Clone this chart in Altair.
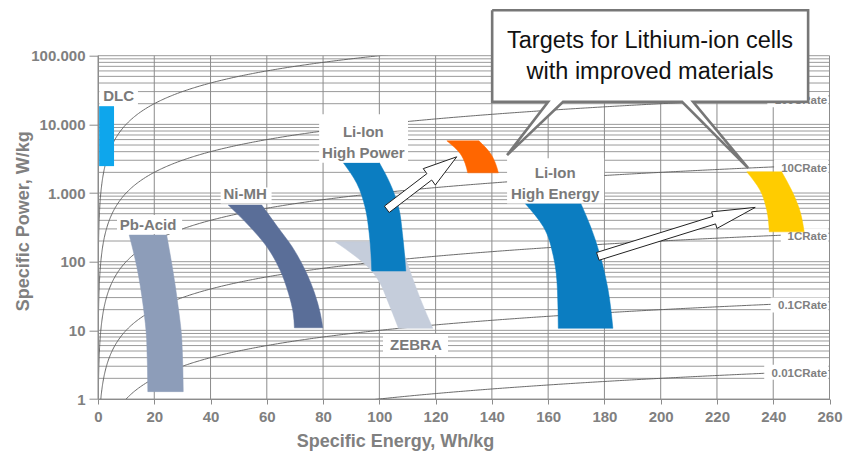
import altair as alt
import numpy as np
import pandas as pd

FONT = "Liberation Sans, Arial, Helvetica, sans-serif"
GRAY = "#808080"
LINE_GRAY = "#8c8c8c"

# ---------------- axes ----------------
X_TICKS = [0, 20, 40, 60, 80, 100, 120, 140, 160, 180, 200, 220, 240, 260]
Y_TICKS = [1, 10, 100, 1000, 10000, 100000]
Y_TICK_LABELS = ["1", "10", "100", "1.000", "10.000", "100.000"]
Y_GRID = [m * 10 ** k for k in range(5) for m in range(1, 10)] + [100000]

# ---------------- C-rate reference lines (P = C * E) ----------------
C_RATES = [0.01, 0.1, 1, 10, 100, 1000]
C_RATE_LABELS = ["0.01CRate", "0.1CRate", "1CRate", "10CRate", "100CRate"]
C_RATE_LABEL_P = [2.11, 20.2, 206, 2036, 19700]
C_RATE_LABEL_BOX_E = [236.8, 239.1, 242.7, 240.3, 237.9]

# ---------------- technology regions ----------------
# DLC rectangle
DLC_E = [0.4, 5.7]
DLC_P = [18400, 2465]

# curved bands: power levels with left / right energy edge
PB_P = [244, 84.3, 22.1, 7.22, 1.28]
PB_EL = [11.1, 13.8, 16.1, 17.3, 17.7]
PB_ER = [24.4, 26.4, 28.5, 29.8, 30.3]

NIMH_P = [667, 322, 165, 75.5, 34.6, 17.7, 10.9]
NIMH_EL = [46.3, 54.0, 60.0, 64.7, 67.7, 69.4, 69.8]
NIMH_ER = [58.2, 63.8, 69.0, 73.6, 77.0, 79.0, 79.9]

ZEBRA_P = [195, 73, 48.3, 29.2, 10.7]
ZEBRA_EL = [84.3, 97.3, 100.3, 102.6, 106.8]
ZEBRA_ER = [107.4, 110.9, 112.5, 114.5, 119.0]

LIHP_P = [2754, 1380, 630, 258, 73]
LIHP_EL = [87.2, 92.0, 94.9, 96.4, 97.3]
LIHP_ER = [100.0, 103.8, 106.8, 108.2, 109.4]

LIHE_P = [706, 322, 118, 38.6, 10.7]
LIHE_EL = [151.8, 158.3, 161.9, 163.3, 163.6]
LIHE_ER = [171.6, 175.1, 178.6, 181.3, 183.0]

TGT_HP_P = [5754, 3770, 2697, 1968]
TGT_HP_EL = [124.0, 128.7, 130.5, 131.4]
TGT_HP_ER = [135.4, 139.5, 141.3, 142.3]

TGT_HE_P = [2036, 1102, 564, 272]
TGT_HE_EL = [230.6, 235.3, 237.7, 238.6]
TGT_HE_ER = [243.0, 246.5, 249.4, 251.0]

# ---------------- region labels ----------------
REGION_TEXT = ["DLC", "Pb-Acid", "Ni-MH", "Li-Ion", "High Power", "Li-Ion", "High Energy", "ZEBRA"]
REGION_TEXT_E = [7.3, 17.8, 52.3, 94.3, 94.3, 162.5, 162.5, 113.0]
REGION_TEXT_P = [21770, 288, 807, 6580, 3190, 1633, 807, 5.17]

BOX_E1 = [0.5, 6.75, 43.6, 78.6, 145.4, 101.3]
BOX_E2 = [14.2, 29.9, 61.7, 110.2, 179.9, 124.4]
BOX_P1 = [36000, 477, 1206, 14070, 3222, 8.84]
BOX_P2 = [18700, 252, 706, 2754, 706, 4.37]

# ---------------- arrows & callout ----------------
ARROW1_E = [101.8, 116.9, 115.6, 127.5, 119.9, 118.6, 103.5, 101.8]
ARROW1_P = [645, 1915, 2265, 3365, 1307, 1546, 520, 645]
ARROW2_E = [177.2, 218.6, 218.1, 233.6, 220.0, 219.5, 178.1, 177.2]
ARROW2_P = [136, 458, 532, 617, 305, 355, 105, 136]

CALLOUT_E = [140.1, 252.4, 252.4, 211.5, 231.1, 207.6, 165.3, 145.4, 160.0, 140.1, 140.1]
CALLOUT_P = [459000, 459000, 21270, 21270, 2303, 21270, 21270, 3560, 21270, 21270, 459000]
CALLOUT_TEXT = ["Targets for Lithium-ion cells", "with improved materials"]
CALLOUT_TEXT_E = [196.2, 196.2]
CALLOUT_TEXT_P = [127400, 45500]

# ---------------- scales / axes ----------------
XS = alt.Scale(domain=[0, 260], nice=False, zero=False)
YS = alt.Scale(type="log", domain=[1, 100000], nice=False)

label_expr = " : ".join(
    f"datum.value == {v} ? '{t}'" for v, t in zip(Y_TICKS, Y_TICK_LABELS)
) + " : ''"

X_AXIS = alt.Axis(
    values=X_TICKS, grid=False, title="Specific Energy, Wh/kg",
    titleX=297, titleY=47.5, titleBaseline="alphabetic", titleAlign="center",
    titleFont=FONT, titleFontSize=18, titleFontWeight="bold", titleColor=GRAY,
    labelFont=FONT, labelFontSize=15, labelFontWeight="bold", labelColor=GRAY,
    labelFlush=False, labelOverlap=False, labelPadding=5,
    tickSize=5, tickColor=LINE_GRAY, domainColor=LINE_GRAY, zindex=1,
)
Y_AXIS = alt.Axis(
    values=Y_TICKS, labelExpr=label_expr, grid=False, title="Specific Power, W/kg",
    titleX=-70, titleY=165, titleAngle=270, titleBaseline="alphabetic", titleAlign="center",
    titleFont=FONT, titleFontSize=18, titleFontWeight="bold", titleColor=GRAY,
    labelFont=FONT, labelFontSize=15, labelFontWeight="bold", labelColor=GRAY,
    labelPadding=4, labelOverlap=False, tickSize=9, tickColor=LINE_GRAY,
    domainColor=LINE_GRAY, zindex=1,
)


def ex(field="E"):
    return alt.X(f"{field}:Q", scale=XS, axis=X_AXIS)


def ey(field="P"):
    return alt.Y(f"{field}:Q", scale=YS, axis=Y_AXIS)


def polygon(e, p, fill, stroke=None, sw=0.6):
    df = pd.DataFrame({"E": e, "P": p, "i": list(range(len(e)))})
    return alt.Chart(df).mark_line(
        fill=fill, stroke=stroke or fill, strokeWidth=sw, strokeJoin="miter"
    ).encode(x=ex(), y=ey(), order=alt.Order("i:Q"))


def band(p, el, er, color):
    df = pd.DataFrame({"P": p, "E": el, "E2": er})
    return alt.Chart(df).mark_area(
        orient="horizontal", interpolate="monotone", color=color,
        stroke=color, strokeWidth=0.5
    ).encode(y=ey(), x=ex(), x2="E2")


layers = []

# grid
layers.append(
    alt.Chart(pd.DataFrame({"P": Y_GRID})).mark_rule(color="#9a9a9a", strokeWidth=1)
    .encode(y=ey())
)
layers.append(
    alt.Chart(pd.DataFrame({"E": X_TICKS})).mark_rule(color=LINE_GRAY, strokeWidth=1)
    .encode(x=ex())
)

# C-rate curves
e_grid = np.unique(np.concatenate([np.geomspace(1e-4, 260, 400), np.linspace(0.5, 260, 300)]))
rate_rows = [{"rate": r, "E": float(e), "P": float(r * e)} for r in C_RATES for e in e_grid]
layers.append(
    alt.Chart(pd.DataFrame(rate_rows)).mark_line(clip=True, color="#5a5a5a", strokeWidth=0.9)
    .encode(x=ex(), y=ey(), detail="rate:N", order=alt.Order("E:Q"))
)

# C-rate label boxes & labels
rl = pd.DataFrame({
    "label": C_RATE_LABELS,
    "E": [259.2] * len(C_RATE_LABELS),
    "P": C_RATE_LABEL_P,
    "Ebox": C_RATE_LABEL_BOX_E,
    "Ebox2": [259.6] * len(C_RATE_LABELS),
    "Ptop": [p * 1.495 for p in C_RATE_LABEL_P],
    "Pbot": [p / 1.106 for p in C_RATE_LABEL_P],
})
layers.append(
    alt.Chart(rl).mark_rect(color="white")
    .encode(x=ex("Ebox"), x2="Ebox2", y=ey("Ptop"), y2="Pbot")
)
layers.append(
    alt.Chart(rl).mark_text(align="right", baseline="alphabetic", font=FONT,
                            fontSize=11.5, fontWeight="bold", color=GRAY)
    .encode(x=ex(), y=ey(), text="label:N")
)

# technology regions
dlc = pd.DataFrame({"E": [DLC_E[0]], "E2": [DLC_E[1]], "P": [DLC_P[0]], "P2": [DLC_P[1]]})
layers.append(
    alt.Chart(dlc).mark_rect(color="#0ea6ec").encode(x=ex(), x2="E2", y=ey(), y2="P2")
)
layers.append(band(PB_P, PB_EL, PB_ER, "#8d9db9"))
layers.append(band(NIMH_P, NIMH_EL, NIMH_ER, "#5a6e98"))
layers.append(band(ZEBRA_P, ZEBRA_EL, ZEBRA_ER, "#c5cddb"))
layers.append(band(LIHP_P, LIHP_EL, LIHP_ER, "#0b7dc1"))
layers.append(band(LIHE_P, LIHE_EL, LIHE_ER, "#0b7dc1"))
layers.append(band(TGT_HP_P, TGT_HP_EL, TGT_HP_ER, "#ff6600"))
layers.append(band(TGT_HE_P, TGT_HE_EL, TGT_HE_ER, "#ffcc00"))

# region label boxes and text
bx = pd.DataFrame({"E": BOX_E1, "E2": BOX_E2, "P": BOX_P1, "P2": BOX_P2})
layers.append(
    alt.Chart(bx).mark_rect(color="white").encode(x=ex(), x2="E2", y=ey(), y2="P2")
)
rt = pd.DataFrame({"label": REGION_TEXT, "E": REGION_TEXT_E, "P": REGION_TEXT_P})
layers.append(
    alt.Chart(rt).mark_text(align="center", baseline="alphabetic", font=FONT,
                            fontSize=15, fontWeight="bold", color="#7a7a7a")
    .encode(x=ex(), y=ey(), text="label:N")
)

# arrows
layers.append(polygon(ARROW1_E, ARROW1_P, "white", stroke="#222222", sw=1))
layers.append(polygon(ARROW2_E, ARROW2_P, "white", stroke="#222222", sw=1))

# callout
layers.append(polygon(CALLOUT_E, CALLOUT_P, "white", stroke="#777777", sw=2.6))
ct = pd.DataFrame({"label": CALLOUT_TEXT, "E": CALLOUT_TEXT_E, "P": CALLOUT_TEXT_P})
layers.append(
    alt.Chart(ct).mark_text(align="center", baseline="alphabetic", font=FONT,
                            fontSize=23.5, color="#111111")
    .encode(x=ex(), y=ey(), text="label:N")
)

chart = alt.layer(*layers).properties(
    width=731.5,
    height=343.3,
    padding={"left": 90, "top": 47.7, "right": 15, "bottom": 56},
    autosize="none",
).configure_view(strokeWidth=0)

chart.save("out.html", embed_options={"renderer": "svg", "actions": False})
